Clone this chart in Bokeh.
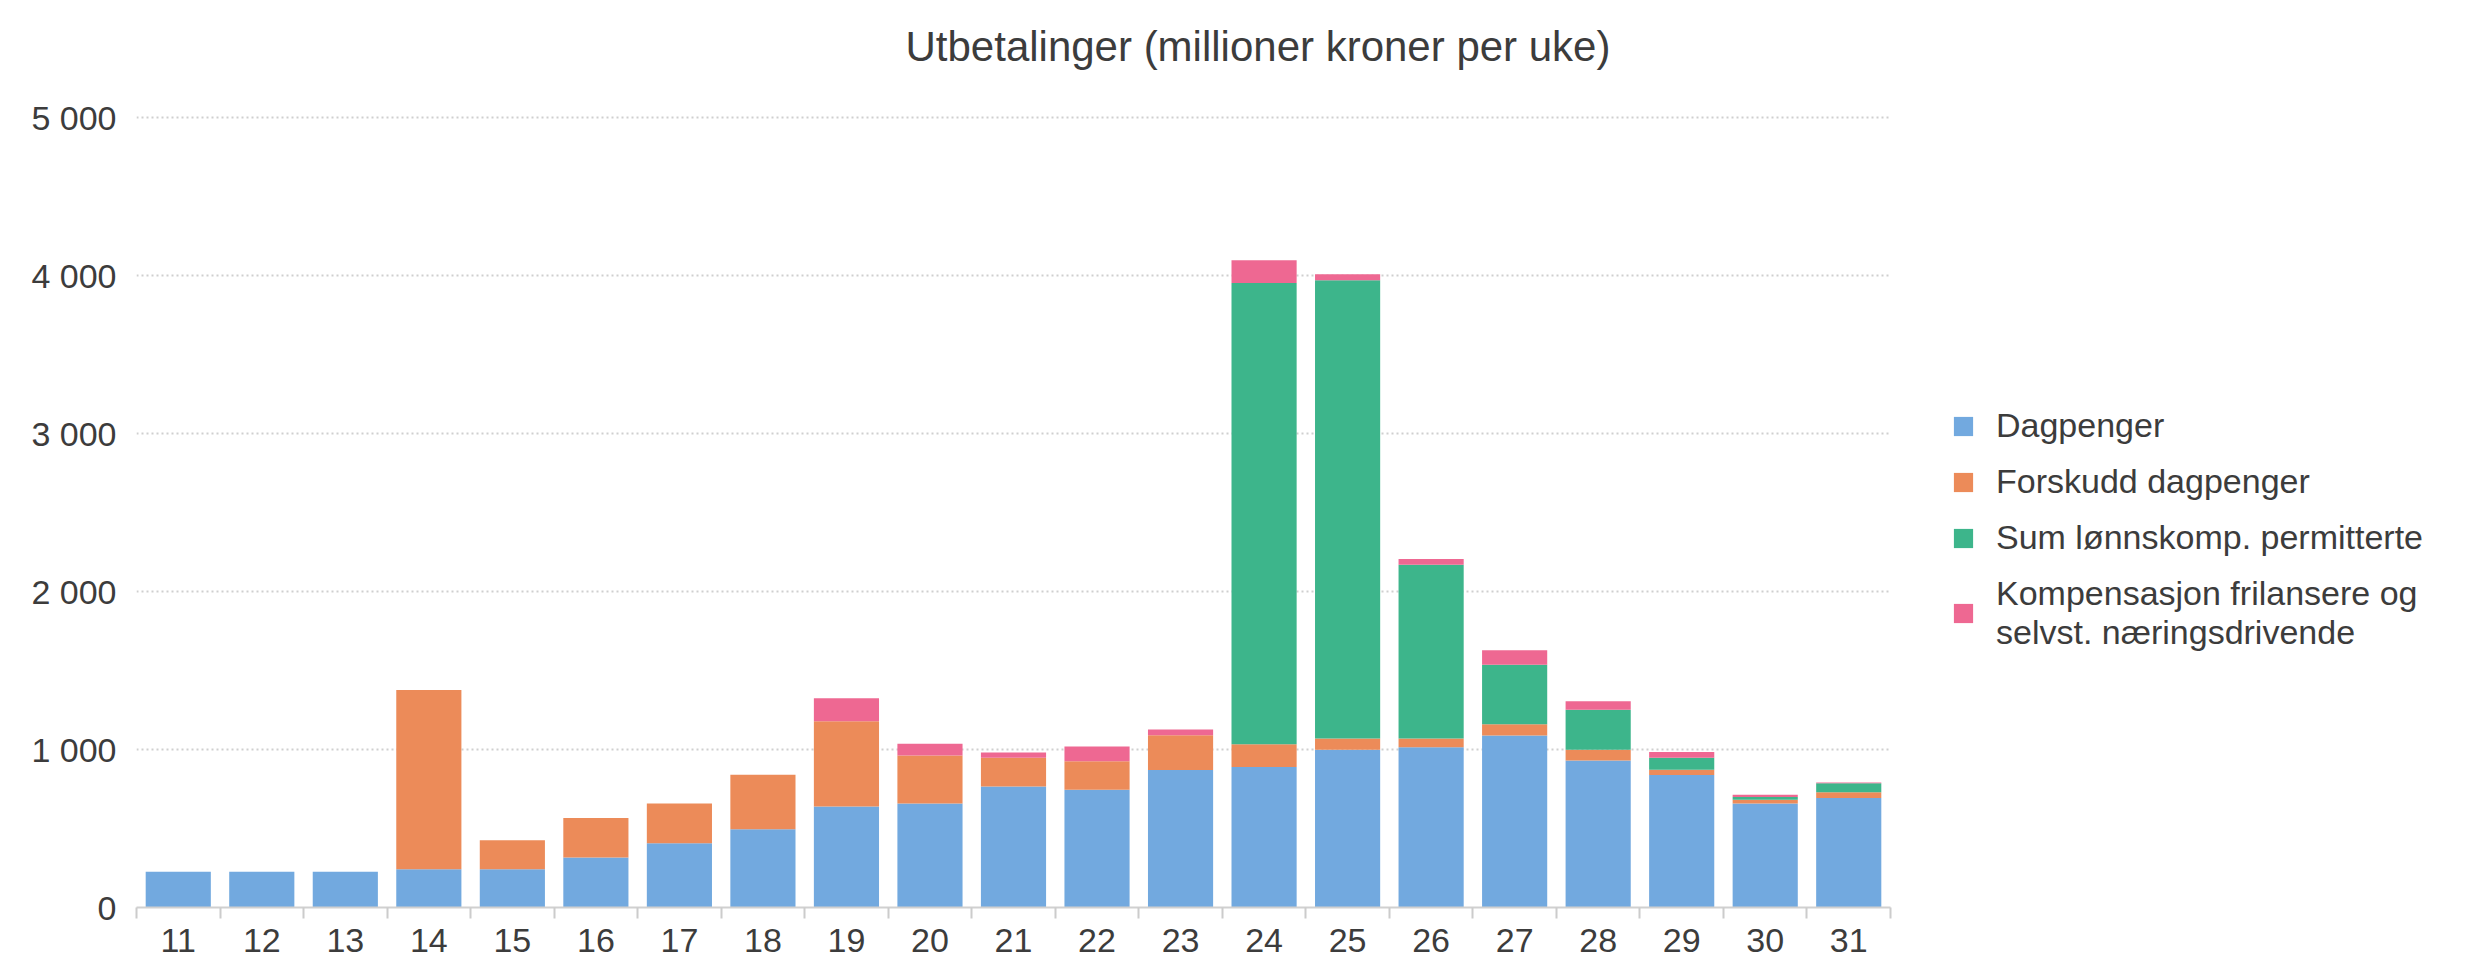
from bokeh.plotting import figure
from bokeh.models import (ColumnDataSource, Range1d, FixedTicker, Legend, LegendItem, Label)
from bokeh.embed import file_html
from bokeh.resources import INLINE

# ---- data ----
weeks = [11, 12, 13, 14, 15, 16, 17, 18, 19, 20, 21, 22, 23, 24, 25, 26, 27, 28, 29, 30, 31]
dagpenger = [227, 227, 227, 242, 242, 316, 406, 495, 640, 659, 766, 745, 871, 890, 998, 1015, 1089, 931, 838, 659, 693]
forskudd = [0, 0, 0, 1135, 183, 250, 253, 345, 539, 303, 181, 181, 219, 144, 72, 55, 71, 67, 34, 23, 36]
lonnskomp = [0, 0, 0, 0, 0, 0, 0, 0, 0, 0, 0, 0, 0, 2919, 2900, 1100, 377, 253, 76, 17, 57]
kompensasjon = [0, 0, 0, 0, 0, 0, 0, 0, 145, 74, 34, 93, 36, 143, 38, 36, 91, 55, 36, 15, 5]

series_names = ["Dagpenger", "Forskudd dagpenger", "Sum lønnskomp. permitterte",
                "Kompensasjon frilansere og\nselvst. næringsdrivende"]
series_keys = ["dagpenger", "forskudd", "lonnskomp", "kompensasjon"]
colors = ["#72a9df", "#ec8b59", "#3db58b", "#ee6892"]
y_ticks = [0, 1000, 2000, 3000, 4000, 5000]
y_tick_labels = ["0", "1 000", "2 000", "3 000", "4 000", "5 000"]
title_text = "Utbetalinger (millioner kroner per uke)"

source = ColumnDataSource(dict(week=weeks, dagpenger=dagpenger, forskudd=forskudd,
                               lonnskomp=lonnskomp, kompensasjon=kompensasjon))

FONT = "Liberation Sans"
TXT = "#3c3c3c"

# layout geometry (pixels)
W, H = 2472, 959
F_LEFT, F_BOTTOM = 136, 907          # frame left edge, y pixel of value 0
BAR_RIGHT = 1890                     # right end of bar area
Y5000 = 117                          # y pixel of value 5000

x0, x1 = weeks[0] - 0.5, weeks[-1] + 0.5
px_per_unit = (BAR_RIGHT - F_LEFT) / (x1 - x0)
x_end = x0 + (W - F_LEFT) / px_per_unit
y_end = y_ticks[-1] * F_BOTTOM / (F_BOTTOM - Y5000)

p = figure(width=W, height=H, output_backend="svg", toolbar_location=None,
           x_range=Range1d(x0, x_end), y_range=Range1d(0, y_end),
           min_border_left=F_LEFT, min_border_right=0, min_border_top=0,
           min_border_bottom=H - F_BOTTOM)
p.outline_line_color = None
p.background_fill_color = "white"
p.border_fill_color = "white"

renderers = p.vbar_stack(series_keys, x="week", width=0.78, source=source,
                         fill_color=colors, line_color=None)

# title (as a label positioned relative to the frame)
p.add_layout(Label(x=905 - F_LEFT, y=F_BOTTOM - 46, x_units="screen", y_units="screen",
                   text=title_text, text_align="left", text_baseline="middle",
                   text_font=FONT, text_font_size="42px", text_color=TXT))

# x axis: labels at centres, tick marks at boundaries
xa = p.xaxis[0]
xa.bounds = (x0, x1)
xa.ticker = FixedTicker(ticks=weeks, minor_ticks=[w - 0.5 for w in weeks] + [x1])
xa.major_tick_line_color = None
xa.major_tick_out = 0
xa.major_tick_in = 0
xa.minor_tick_line_color = "#cccccc"
xa.minor_tick_line_width = 2
xa.minor_tick_out = 11
xa.minor_tick_in = 0
xa.axis_line_color = "#d0d0d0"
xa.axis_line_width = 2
xa.major_label_text_font = FONT
xa.major_label_text_font_size = "34px"
xa.major_label_text_color = TXT
xa.major_label_standoff = 10
p.xgrid.grid_line_color = None

# y axis
ya = p.yaxis[0]
ya.ticker = FixedTicker(ticks=y_ticks)
ya.major_label_overrides = {t: l for t, l in zip(y_ticks, y_tick_labels)}
ya.axis_line_color = None
ya.major_tick_line_color = None
ya.minor_tick_line_color = None
ya.major_tick_out = 0
ya.major_tick_in = 0
ya.major_label_standoff = 20
ya.major_label_text_font = FONT
ya.major_label_text_font_size = "34px"
ya.major_label_text_color = TXT
p.ygrid.ticker = FixedTicker(ticks=y_ticks[1:])
p.ygrid.cross_bounds = (x0, x1)
p.ygrid.grid_line_color = "#cfcfcf"
p.ygrid.grid_line_width = 2
p.ygrid.grid_line_dash = "2 3"

legend = Legend(items=[LegendItem(label=n, renderers=[r]) for n, r in zip(series_names, renderers)],
                location=(1951 - F_LEFT, 255), orientation="vertical",
                glyph_width=24, glyph_height=24, label_standoff=21, spacing=17,
                padding=0, margin=0, border_line_color=None, background_fill_alpha=0,
                label_text_font=FONT, label_text_font_size="34px", label_text_color=TXT)
p.add_layout(legend, "center")

open("out.html", "w").write(file_html(p, INLINE))
